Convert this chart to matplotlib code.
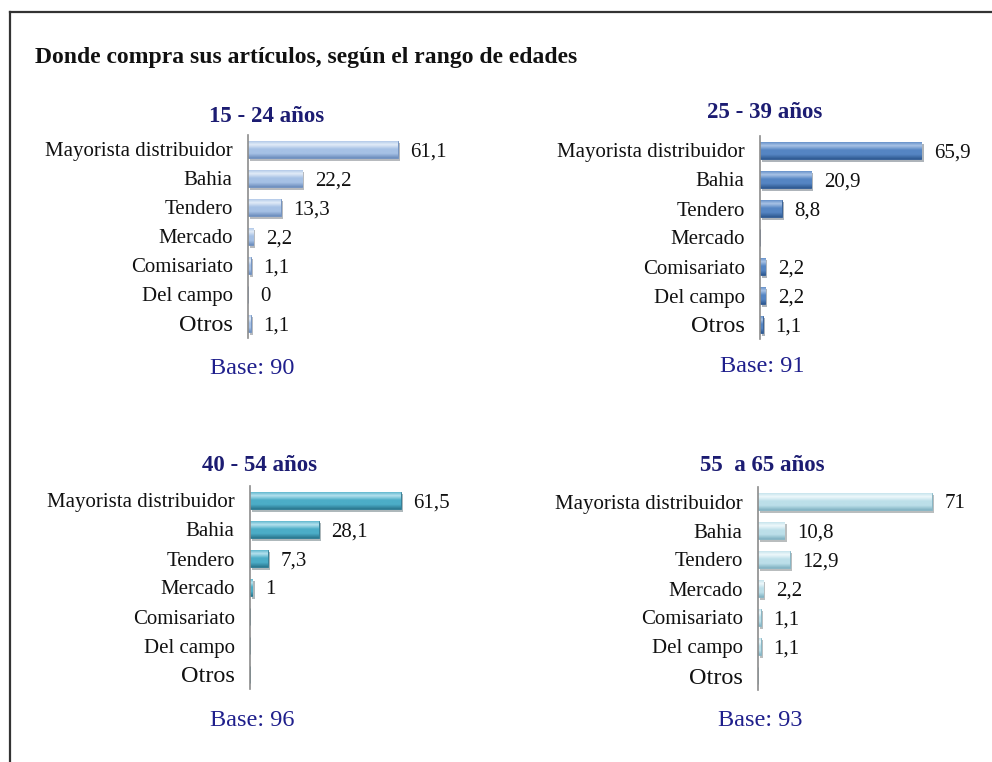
import numpy as np
import matplotlib.pyplot as plt
from matplotlib.lines import Line2D
from matplotlib.colors import LinearSegmentedColormap
import matplotlib.patheffects as pe

plt.rcParams['font.family'] = ['Liberation Serif', 'DejaVu Serif']

categorias = ['Mayorista distribuidor', 'Bahia', 'Tendero', 'Mercado',
              'Comisariato', 'Del campo', 'Otros']

edades = ['15 - 24 años', '25 - 39 años', '40 - 54 años', '55  a 65 años']
bases = [90, 91, 96, 93]

v_15_24 = [61.1, 22.2, 13.3, 2.2, 1.1, 0, 1.1]
v_25_39 = [65.9, 20.9, 8.8, None, 2.2, 2.2, 1.1]
v_40_54 = [61.5, 28.1, 7.3, 1, None, None, None]
v_55_65 = [71, 10.8, 12.9, 2.2, 1.1, 1.1, None]
valores = [v_15_24, v_25_39, v_40_54, v_55_65]

# (claro, medio, oscuro) para el efecto de cilindro
colores = [('#e2ecf8', '#a6c1e5', '#6d8ebe'),
           ('#a9c3e6', '#5585c3', '#2f5a92'),
           ('#b5e2ee', '#4cadc7', '#2b7890'),
           ('#eef8fb', '#bcdfe9', '#82b3c3')]

W, H = 992, 762
fig = plt.figure(figsize=(W / 100, H / 100), dpi=100)


def fx(x):
    return x / W


def fy(y):
    return 1 - y / H


# marco
fig.add_artist(Line2D([fx(10), fx(10)], [fy(12), fy(762)], color='#333333', lw=1.6))
fig.add_artist(Line2D([fx(10), fx(992)], [fy(12), fy(12)], color='#333333', lw=1.6))

fig.text(fx(35), fy(57), 'Donde compra sus artículos, según el rango de edades',
         fontsize=17, fontweight='bold', color='#111111', va='center')

# eje (x, arriba, abajo), titulo (x, y), base (x, y)
paneles = [((248, 135, 338), (267, 116), (252, 369)),
           ((760, 136, 339), (765, 112), (762, 366)),
           ((250, 486, 689), (259, 466), (252, 720)),
           ((758, 487, 690), (762, 466), (760, 720))]

escala = 2.45  # px por unidad

for vals, edad, base, col, (eje, tit, bpos) in zip(valores, edades, bases, colores, paneles):
    x0, top, bot = eje
    ax = fig.add_axes([fx(x0), fy(bot), 100 * escala / W, (bot - top) / H])
    ax.patch.set_alpha(0)

    y = np.arange(len(categorias))
    ancho = [v if v is not None else 0 for v in vals]
    bars = ax.barh(y, ancho, height=0.62, color=col[1], edgecolor=col[2], lw=0.6,
                   path_effects=[pe.SimplePatchShadow(offset=(1.5, -1.5), alpha=0.35),
                                 pe.Normal()])
    cmap = LinearSegmentedColormap.from_list('cil', [col[2], col[1], col[1], col[0], col[1]])
    grad = np.linspace(0, 1, 64).reshape(-1, 1)
    for b in bars:
        if b.get_width() <= 0:
            continue
        im = ax.imshow(grad, cmap=cmap, aspect='auto', origin='lower',
                       extent=[b.get_x(), b.get_x() + b.get_width(),
                               b.get_y() + b.get_height(), b.get_y()],
                       zorder=b.get_zorder() + 0.1)
        im.set_clip_path(b)
    ax.set_xlim(0, 100)
    ax.set_ylim(len(categorias) - 0.5, -0.5)

    for yi, v in zip(y, vals):
        if v is None:
            continue
        txt = str(int(v)) if v == int(v) else f'{v:.1f}'.replace('.', ',')
        ax.annotate(txt, (v, yi), xytext=(9, 0), textcoords='offset points',
                    va='center_baseline', ha='left', fontsize=15, color='#111111')

    ax.set_yticks(y)
    ax.set_yticklabels(categorias, fontsize=15, color='#111111', va='center_baseline')
    ax.get_yticklabels()[-1].set_fontsize(17.5)
    ax.tick_params(axis='y', length=0, pad=11)
    ax.set_xticks([])
    for s in ['top', 'right', 'bottom']:
        ax.spines[s].set_visible(False)
    ax.spines['left'].set_color('#8c8c8c')
    ax.spines['left'].set_linewidth(1.2)

    fig.text(fx(tit[0]), fy(tit[1]), edad, fontsize=16.5, fontweight='bold',
             color='#1c1c72', ha='center', va='center')
    fig.text(fx(bpos[0]), fy(bpos[1]), f'Base: {base}', fontsize=17.5,
             color='#1f1f8c', ha='center', va='center')

fig.savefig('out.png', dpi=100)
